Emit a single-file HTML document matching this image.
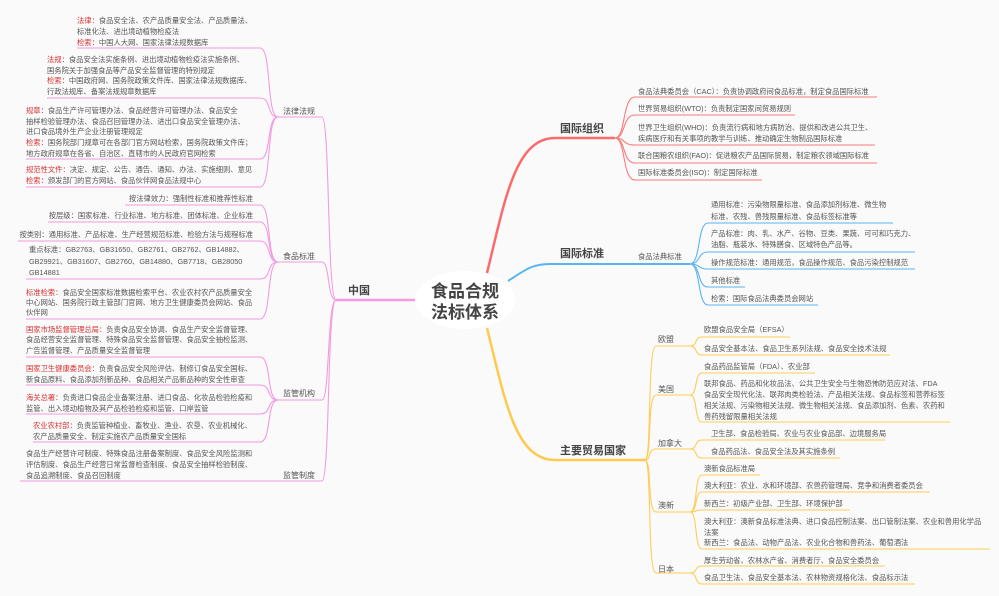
<!DOCTYPE html>
<html><head><meta charset="utf-8"><style>
html,body{margin:0;padding:0;background:#fafafa;}
svg{display:block;}
text{font-family:"Liberation Sans","Noto Sans CJK SC",sans-serif;fill:#555;font-size:7.3px;}
.r{fill:#d93030;}
.lab{font-size:8px;fill:#555;}
.main{font-size:11px;font-weight:bold;fill:#444;}
.pk{stroke:#f29be0;fill:none;stroke-width:1.1;}
.rd{stroke:#fb7a7a;fill:none;stroke-width:1.1;}
.bl{stroke:#5ab4f0;fill:none;stroke-width:1.1;}
.yl{stroke:#ffcc55;fill:none;stroke-width:1.1;}
</style></head><body>
<svg width="999" height="596" viewBox="0 0 999 596" xmlns="http://www.w3.org/2000/svg">
<rect width="999" height="596" fill="#fafafa"/>
<path d="M487 273 C505 200 515 138 555 138 H615" stroke="#fb6b6b" stroke-width="2.5" fill="none"/>
<path d="M508 281 C525 270 532 264 550 264 H690" stroke="#5ab4f0" stroke-width="2" fill="none"/>
<path d="M487 328 C505 400 515 460 555 460 H645" stroke="#ffc94d" stroke-width="2.5" fill="none"/>
<path d="M336 300 H415" stroke="#f29be0" stroke-width="2.5" fill="none"/>
<ellipse cx="465" cy="300" rx="50" ry="29" fill="#fff"/>
<text x="465" y="297" text-anchor="middle" style="font-size:17px;font-weight:bold;fill:#444">食品合规</text>
<text x="465" y="318" text-anchor="middle" style="font-size:17px;font-weight:bold;fill:#444">法标体系</text>
<text class="main" x="348" y="294">中国</text>
<text class="main" x="560" y="132">国际组织</text>
<text class="main" x="560" y="257">国际标准</text>
<text class="main" x="560" y="454">主要贸易国家</text>

<path class="pk" d="M336 300 C327 300 330 117 322 117 H278"/>
<path class="pk" d="M336 300 C327 300 330 262 322 262 H278"/>
<path class="pk" d="M336 300 C327 300 330 400 322 400 H278"/>
<path class="pk" d="M336 300 C327 300 330 481 322 481 H20"/>
<text class="lab" x="283" y="114">法律法规</text>
<text class="lab" x="283" y="259">食品标准</text>
<text class="lab" x="283" y="396">监管机构</text>
<text class="lab" x="283" y="478">监管制度</text>
<path class="pk" d="M278 117 C266 117 272 48 260 48 H77"/>
<path class="pk" d="M278 117 C266 117 272 98 260 98 H47"/>
<path class="pk" d="M278 117 C266 117 272 159 260 159 H26"/>
<path class="pk" d="M278 117 C266 117 272 187 260 187 H26"/>
<text x="77" y="23"><tspan class="r">法律：</tspan>食品安全法、农产品质量安全法、产品质量法、</text>
<text x="77" y="34">标准化法、进出境动植物检疫法</text>
<text x="77" y="45"><tspan class="r">检索：</tspan>中国人大网、国家法律法规数据库</text>
<text x="47" y="62"><tspan class="r">法规：</tspan>食品安全法实施条例、进出境动植物检疫法实施条例、</text>
<text x="47" y="73">国务院关于加强食品等产品安全监督管理的特别规定</text>
<text x="47" y="83"><tspan class="r">检索：</tspan>中国政府网、国务院政策文件库、国家法律法规数据库、</text>
<text x="47" y="94">行政法规库、备案法规规章数据库</text>
<text x="26" y="113"><tspan class="r">规章：</tspan>食品生产许可管理办法、食品经营许可管理办法、食品安全</text>
<text x="26" y="124">抽样检验管理办法、食品召回管理办法、进出口食品安全管理办法、</text>
<text x="26" y="134">进口食品境外生产企业注册管理规定</text>
<text x="26" y="145"><tspan class="r">检索：</tspan>国务院部门规章可在各部门官方网站检索，国务院政策文件库；</text>
<text x="26" y="156">地方政府规章在各省、自治区、直辖市的人民政府官网检索</text>
<text x="26" y="172"><tspan class="r">规范性文件：</tspan>决定、规定、公告、通告、通知、办法、实施细则、意见</text>
<text x="26" y="183"><tspan class="r">检索：</tspan>颁发部门的官方网站、食品伙伴网食品法规中心</text>
<path class="pk" d="M278 262 C266 262 272 205 260 205 H125"/>
<path class="pk" d="M278 262 C266 262 272 222 260 222 H48"/>
<path class="pk" d="M278 262 C266 262 272 241 260 241 H18"/>
<path class="pk" d="M278 262 C266 262 272 279 260 279 H26"/>
<path class="pk" d="M278 262 C266 262 272 319 260 319 H26"/>
<text x="253" y="201" text-anchor="end">按法律效力：强制性标准和推荐性标准</text>
<text x="253" y="218" text-anchor="end">按层级：国家标准、行业标准、地方标准、团体标准、企业标准</text>
<text x="253" y="237" text-anchor="end">按类别：通用标准、产品标准、生产经营规范标准、检验方法与规程标准</text>
<text x="29" y="252">重点标准：GB2763、GB31650、GB2761、GB2762、GB14882、</text>
<text x="29" y="264">GB29921、GB31607、GB2760、GB14880、GB7718、GB28050</text>
<text x="29" y="275">GB14881</text>
<text x="26" y="295"><tspan class="r">标准检索：</tspan>食品安全国家标准数据检索平台、农业农村农产品质量安全</text>
<text x="26" y="305">中心网站、国务院行政主管部门官网、地方卫生健康委员会网站、食品</text>
<text x="26" y="315">伙伴网</text>
<path class="pk" d="M278 400 C266 400 272 357 260 357 H26"/>
<path class="pk" d="M278 400 C266 400 272 385 260 385 H26"/>
<path class="pk" d="M278 400 C266 400 272 414 260 414 H26"/>
<path class="pk" d="M278 400 C266 400 272 442 260 442 H33"/>
<text x="26" y="332"><tspan class="r">国家市场监督管理总局：</tspan>负责食品安全协调、食品生产安全监督管理、</text>
<text x="26" y="342">食品经营安全监督管理、特殊食品安全监督管理、食品安全抽检监测、</text>
<text x="26" y="353">广告监督管理、产品质量安全监督管理</text>
<text x="26" y="371"><tspan class="r">国家卫生健康委员会：</tspan>负责食品安全风险评估、制修订食品安全国标、</text>
<text x="26" y="382">新食品原料、食品添加剂新品种、食品相关产品新品种的安全性审查</text>
<text x="26" y="400"><tspan class="r">海关总署：</tspan>负责进口食品企业备案注册、进口食品、化妆品检验检疫和</text>
<text x="26" y="411">监管、出入境动植物及其产品检验检疫和监管、口岸监管</text>
<text x="33" y="428"><tspan class="r">农业农村部：</tspan>负责监管种植业、畜牧业、渔业、农垦、农业机械化、</text>
<text x="33" y="439">农产品质量安全、制定实施农产品质量安全国标</text>
<text x="26" y="456">食品生产经营许可制度、特殊食品注册备案制度、食品安全风险监测和</text>
<text x="26" y="467">评估制度、食品生产经营日常监督检查制度、食品安全抽样检验制度、</text>
<text x="26" y="478">食品追溯制度、食品召回制度</text>

<path class="rd" d="M615 138 C626 138 622 97 635 97 H877"/>
<path class="rd" d="M615 138 C626 138 622 115 635 115 H795"/>
<path class="rd" d="M615 138 C626 138 622 145 635 145 H875"/>
<path class="rd" d="M615 138 C626 138 622 163 635 163 H877"/>
<path class="rd" d="M615 138 C626 138 622 180 635 180 H762"/>
<text x="638" y="94">食品法典委员会（CAC）：负责协调政府间食品标准，制定食品国际标准</text>
<text x="638" y="111">世界贸易组织(WTO)：负责制定国家间贸易规则</text>
<text x="638" y="130">世界卫生组织(WHO)：负责流行病和地方病防治、提供和改进公共卫生、</text>
<text x="638" y="141">疾病医疗和有关事项的教学与训练、推动确定生物制品国际标准</text>
<text x="638" y="158">联合国粮农组织(FAO)：促进粮农产品国际贸易，制定粮农领域国际标准</text>
<text x="638" y="175">国际标准委员会(ISO)：制定国际标准</text>

<text x="638" y="259">食品法典标准</text>
<path class="bl" d="M690 264 C701 264 697 223 708 223 H893"/>
<path class="bl" d="M690 264 C701 264 697 252 708 252 H915"/>
<path class="bl" d="M690 264 C701 264 697 269 708 269 H915"/>
<path class="bl" d="M690 264 C701 264 697 287 708 287 H745"/>
<path class="bl" d="M690 264 C701 264 697 305 708 305 H818"/>
<text x="711" y="207">通用标准：污染物限量标准、食品添加剂标准、微生物</text>
<text x="711" y="219">标准、农残、兽残限量标准、食品标签标准等</text>
<text x="711" y="236">产品标准：肉、乳、水产、谷物、豆类、果蔬、可可和巧克力、</text>
<text x="711" y="247">油脂、瓶装水、特殊膳食、区域特色产品等。</text>
<text x="711" y="265">操作规范标准：通用规范，食品操作规范、食品污染控制规范</text>
<text x="711" y="283">其他标准</text>
<text x="711" y="301">检索：国际食品法典委员会网站</text>

<path class="yl" d="M645 460 C652 460 647 346 656 346 H690"/>
<path class="yl" d="M645 460 C652 460 647 395 656 395 H690"/>
<path class="yl" d="M645 460 C652 460 647 449 656 449 H690"/>
<path class="yl" d="M645 460 C652 460 647 512 656 512 H690"/>
<path class="yl" d="M645 460 C652 460 647 573 656 573 H690"/>
<text class="lab" x="658" y="342">欧盟</text>
<text class="lab" x="658" y="392">美国</text>
<text class="lab" x="658" y="446">加拿大</text>
<text class="lab" x="658" y="508">澳新</text>
<text class="lab" x="658" y="572">日本</text>
<path class="yl" d="M690 346 C698 346 694 337 702 337 H790"/>
<path class="yl" d="M690 346 C698 346 694 355 702 355 H890"/>
<path class="yl" d="M690 395 C698 395 694 373 702 373 H815"/>
<path class="yl" d="M690 395 C698 395 694 422 702 422 H950"/>
<path class="yl" d="M690 449 C698 449 694 440 702 440 H885"/>
<path class="yl" d="M690 449 C698 449 694 458 702 458 H840"/>
<path class="yl" d="M690 512 C698 512 694 475 702 475 H760"/>
<path class="yl" d="M690 512 C698 512 694 492 702 492 H930"/>
<path class="yl" d="M690 512 C698 512 694 510 702 510 H850"/>
<path class="yl" d="M690 512 C698 512 694 549 702 549 H990"/>
<path class="yl" d="M690 573 C698 573 694 566 702 566 H885"/>
<path class="yl" d="M690 573 C698 573 694 584 702 584 H915"/>
<text x="704" y="332">欧盟食品安全局（EFSA）</text>
<text x="704" y="351">食品安全基本法、食品卫生系列法规、食品安全技术法规</text>
<text x="704" y="369">食品药品监管局（FDA）、农业部</text>
<text x="704" y="386">联邦食品、药品和化妆品法、公共卫生安全与生物恐怖防范应对法、FDA</text>
<text x="704" y="397">食品安全现代化法、联邦肉类检验法、产品相关法规、食品标签和营养标签</text>
<text x="704" y="408">相关法规、污染物相关法规、微生物相关法规、食品添加剂、色素、农药和</text>
<text x="704" y="419">兽药残留限量相关法规</text>
<text x="711" y="436">卫生部、食品检验局、农业与农业食品部、边境服务局</text>
<text x="711" y="454">食品药品法、食品安全法及其实施条例</text>
<text x="704" y="471">澳新食品标准局</text>
<text x="704" y="488">澳大利亚：农业、水和环境部、农兽药管理局、竞争和消费者委员会</text>
<text x="704" y="506">新西兰：初级产业部、卫生部、环境保护部</text>
<text x="704" y="524">澳大利亚：澳新食品标准法典、进口食品控制法案、出口管制法案、农业和兽用化学品</text>
<text x="704" y="535">法案</text>
<text x="704" y="545">新西兰：食品法、动物产品法、农业化合物和兽药法、葡萄酒法</text>
<text x="704" y="563">厚生劳动省、农林水产省、消费者厅、食品安全委员会</text>
<text x="704" y="580">食品卫生法、食品安全基本法、农林物资规格化法、食品标示法</text>
</svg>
</body></html>
